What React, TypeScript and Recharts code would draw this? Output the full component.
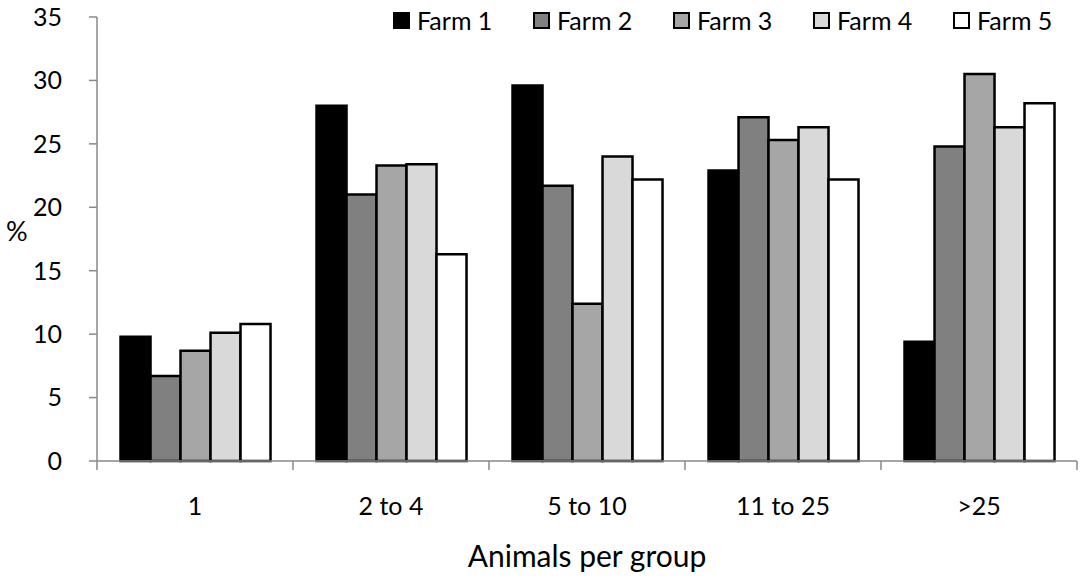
import React from 'react';
import { BarChart, Bar, XAxis, YAxis } from 'recharts';

const groups = ['1', '2 to 4', '5 to 10', '11 to 25', '>25'];
const farm1 = [9.8, 28.0, 29.6, 22.9, 9.4];
const farm2 = [6.7, 21.0, 21.7, 27.1, 24.8];
const farm3 = [8.7, 23.3, 12.4, 25.3, 30.5];
const farm4 = [10.1, 23.4, 24.0, 26.3, 26.3];
const farm5 = [10.8, 16.3, 22.2, 22.2, 28.2];
const yTicks = [0, 5, 10, 15, 20, 25, 30, 35];

const farms = [
    { key: 'Farm 1', values: farm1, fill: '#000000' },
    { key: 'Farm 2', values: farm2, fill: '#808080' },
    { key: 'Farm 3', values: farm3, fill: '#a6a6a6' },
    { key: 'Farm 4', values: farm4, fill: '#d9d9d9' },
    { key: 'Farm 5', values: farm5, fill: '#ffffff' },
];

const data = groups.map((g, i) => {
    const row: Record<string, string | number> = { group: g };
    farms.forEach((f) => { row[f.key] = f.values[i]; });
    return row;
});

const FONT = 'Lato, "Open Sans", sans-serif';
const AXIS = '#888888';

// category label in the middle, tick marks on the band edges
function GroupTick(props: any) {
    const { x, y, payload, index, visibleTicksCount } = props;
    const half = payload.offset || 0;
    const axisY = y - 36;
    return (
        <g>
            <line x1={x - half} x2={x - half} y1={axisY} y2={axisY + 9} stroke={AXIS} strokeWidth={1.5} />
            {index === visibleTicksCount - 1 && (
                <line x1={x + half} x2={x + half} y1={axisY} y2={axisY + 9} stroke={AXIS} strokeWidth={1.5} />
            )}
            <text x={x} y={y} dy="0.71em" textAnchor="middle" fill="#000" fontSize={25} fontFamily={FONT}>
                {payload.value}
            </text>
        </g>
    );
}

function FarmLegend() {
    return (
        <div style={{
            position: 'absolute', top: 5, left: 393, display: 'flex',
            fontFamily: FONT, fontSize: 25, color: '#000', lineHeight: '30px'
        }}>
            {farms.map((f) => (
                <div key={f.key} style={{ display: 'flex', alignItems: 'center', width: 140 }}>
                    <span style={{
                        display: 'inline-block', width: 13, height: 13, marginRight: 7,
                        background: f.fill, border: '2px solid #000', boxSizing: 'content-box'
                    }} />
                    <span>{f.key}</span>
                </div>
            ))}
        </div>
    );
}

export default function App() {
    return (
        <div style={{ position: 'absolute', left: 0, top: 0, width: 1084, height: 579, background: '#fff' }}>
            <BarChart
                width={1084}
                height={579}
                data={data}
                margin={{ top: 17, right: 7, left: 0, bottom: 0 }}
                barCategoryGap="12%"
                barGap={0}
            >
                <XAxis
                    dataKey="group"
                    height={118}
                    axisLine={{ stroke: AXIS, strokeWidth: 1.5 }}
                    tickLine={false}
                    tickSize={0}
                    tickMargin={36}
                    tick={<GroupTick />}
                    label={{ value: 'Animals per group', position: 'insideBottom', offset: 12, fill: '#000', fontSize: 30, fontFamily: FONT }}
                />
                <YAxis
                    width={97}
                    domain={[0, 35]}
                    ticks={yTicks}
                    interval={0}
                    axisLine={{ stroke: AXIS, strokeWidth: 1.5 }}
                    tickLine={{ stroke: AXIS, strokeWidth: 1.5 }}
                    tickSize={8}
                    tickMargin={27}
                    tick={{ fill: '#000', fontSize: 25, fontFamily: FONT }}
                    label={{ value: '%', position: 'insideLeft', offset: 6, dy: -8, fill: '#000', fontSize: 27, fontFamily: FONT }}
                />
                {farms.map((f) => (
                    <Bar
                        key={f.key}
                        dataKey={f.key}
                        fill={f.fill}
                        stroke="#000"
                        strokeWidth={2.5}
                        isAnimationActive={false}
                    />
                ))}
            </BarChart>
            <FarmLegend />
        </div>
    );
}
